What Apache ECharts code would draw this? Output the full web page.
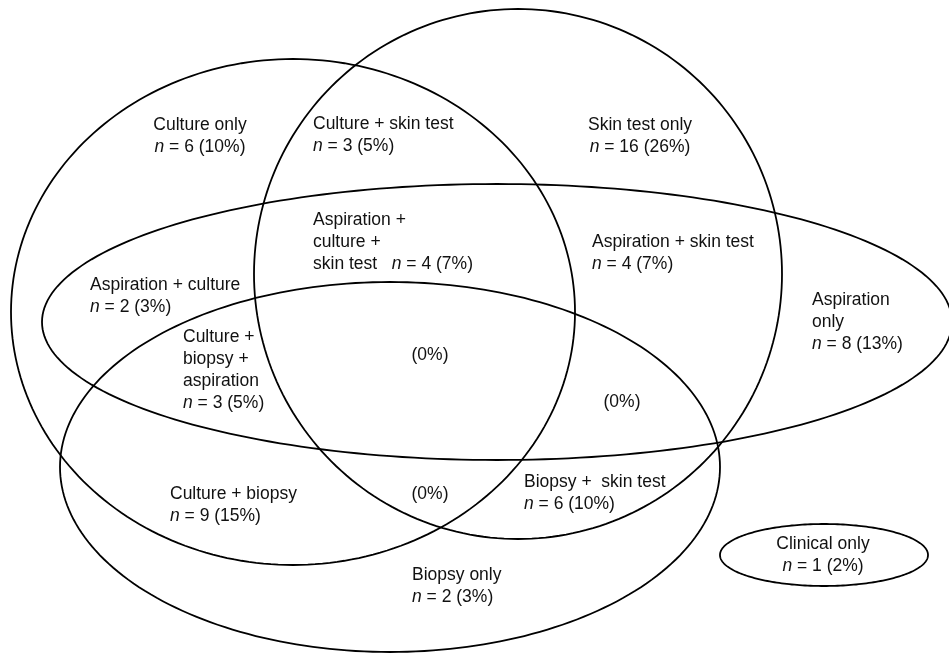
<!DOCTYPE html>
<html><head><meta charset="utf-8">
<script src="https://cdn.jsdelivr.net/npm/echarts@6/dist/echarts.min.js"></script>
<style>html,body{margin:0;padding:0;background:#fff}#c{width:949px;height:654px}</style>
</head><body><div id="c"></div>
<script>
// ---- Data ----
const sets = ['Culture', 'Skin test', 'Aspiration', 'Biopsy', 'Clinical'];
const regionNames = ['Culture only', 'Culture + skin test', 'Skin test only',
  'Aspiration + culture + skin test', 'Aspiration + skin test', 'Aspiration + culture',
  'Aspiration only', 'Culture + biopsy + aspiration', 'All four tests',
  'Aspiration + biopsy + skin test', 'Culture + biopsy', 'Culture + biopsy + skin test',
  'Biopsy + skin test', 'Biopsy only', 'Clinical only'];
const regionCounts = [6, 3, 16, 4, 4, 2, 8, 3, null, null, 9, null, 6, 2, 1];
const regionPercents = [10, 5, 26, 7, 7, 3, 13, 5, 0, 0, 15, 0, 10, 3, 2];
const regionText = [['Culture only'], ['Culture + skin test'], ['Skin test only'],
  ['Aspiration +', 'culture +', 'skin test'], ['Aspiration + skin test'], ['Aspiration + culture'],
  ['Aspiration', 'only'], ['Culture +', 'biopsy +', 'aspiration'], [],
  [], ['Culture + biopsy'], [],
  ['Biopsy +  skin test'], ['Biopsy only'], ['Clinical only']];

// ---- Layout (axis units = pixels of the drawing area) ----
const setShapes = [ // cx, cy, rx, ry
  [293, 312, 282, 253],
  [518, 274, 264, 265],
  [497, 322, 455, 138],
  [390, 467, 330, 185],
  [824, 555, 104, 31]
];
const labelLayout = [ // x, first-line centre y, align, count inline with last line
  [200, 125, 'center', false],
  [313, 124, 'left', false],
  [640, 125, 'center', false],
  [313, 220, 'left', true],
  [592, 242, 'left', false],
  [90, 285, 'left', false],
  [812, 300, 'left', false],
  [183, 337, 'left', false],
  [430, 355, 'center', false],
  [622, 402, 'center', false],
  [170, 494, 'left', false],
  [430, 494, 'center', false],
  [524, 482, 'left', false],
  [412, 575, 'left', false],
  [823, 544, 'center', false]
];

const FONT = '"Liberation Sans", Arial, Helvetica, sans-serif';
const FS = 17.5, LH = 22, INK = '#111';

function labelString(i) {
  const lines = regionText[i].slice();
  const c = regionCounts[i];
  const cnt = c == null ? '(' + regionPercents[i] + '%)'
    : '{i|n} = ' + c + ' (' + regionPercents[i] + '%)';
  if (labelLayout[i][3] && lines.length) {
    lines[lines.length - 1] = lines[lines.length - 1] + '   ' + cnt;
  } else {
    lines.push(cnt);
  }
  return lines.join('\n');
}

const chart = echarts.init(document.getElementById('c'), null, {renderer: 'canvas'});
chart.setOption({
  animation: false,
  backgroundColor: '#fff',
  grid: {left: 0, right: 0, top: 0, bottom: 0},
  xAxis: {type: 'value', min: 0, max: 949, show: false},
  yAxis: {type: 'value', min: 0, max: 654, inverse: true, show: false},
  series: [
    {
      type: 'custom',
      name: 'sets',
      clip: true,
      data: sets.map((s, i) => [i]),
      renderItem: function (params, api) {
        const g = setShapes[params.dataIndex];
        const pts = [];
        const N = 240;
        for (let k = 0; k < N; k++) {
          const t = 2 * Math.PI * k / N;
          pts.push(api.coord([g[0] + g[2] * Math.cos(t), g[1] + g[3] * Math.sin(t)]));
        }
        return {
          type: 'polygon',
          shape: {points: pts},
          style: {fill: 'none', stroke: '#000', lineWidth: 1.8}
        };
      }
    },
    {
      type: 'custom',
      name: 'regions',
      data: regionNames.map((n, i) => [i]),
      renderItem: function (params, api) {
        const i = params.dataIndex;
        const L = labelLayout[i];
        const p = api.coord([L[0], L[1] - LH / 2]);
        return {
          type: 'text',
          x: p[0], y: p[1],
          style: {
            text: labelString(i),
            fill: INK, fontFamily: FONT, fontSize: FS, lineHeight: LH,
            align: L[2], verticalAlign: 'top',
            rich: {
              i: {fontStyle: 'italic', fontFamily: FONT, fontSize: FS, lineHeight: LH, fill: INK}
            }
          }
        };
      }
    }
  ]
});
</script>
</body></html>
